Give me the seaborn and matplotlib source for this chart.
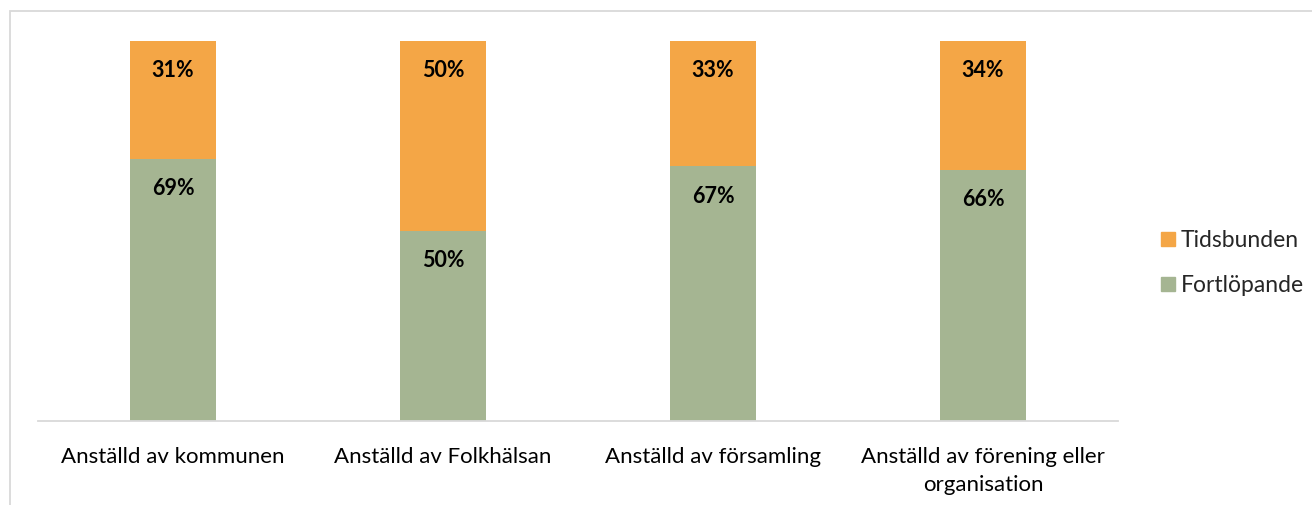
import numpy as np
import pandas as pd
import matplotlib
matplotlib.use("Agg")
import matplotlib.pyplot as plt
import seaborn as sns
from matplotlib.patches import Patch, Rectangle

categories = ["Anställd av kommunen", "Anställd av Folkhälsan",
              "Anställd av församling", "Anställd av förening eller\norganisation"]
fortlopande = [69, 50, 67, 66]
tidsbunden = [31, 50, 33, 34]

orange = "#F4A646"
green = "#A5B592"
grey = "#D9D9D9"

sns.set_theme(style="white")
plt.rcParams["font.family"] = ["Lato", "DejaVu Sans"]

df = pd.DataFrame({"kategori": categories,
                   "Fortlöpande": fortlopande,
                   "Tidsbunden": tidsbunden})
df["total"] = df["Fortlöpande"] + df["Tidsbunden"]

fig = plt.figure(figsize=(13.12, 5.05), dpi=100)
ax = fig.add_axes([38 / 1312, 84 / 505, 1080 / 1312, 380 / 505])

# stacked: draw total in orange, then the lower part in green over it
sns.barplot(data=df, x="kategori", y="total", color=orange, width=0.32,
            saturation=1, linewidth=0, ax=ax)
sns.barplot(data=df, x="kategori", y="Fortlöpande", color=green, width=0.32,
            saturation=1, linewidth=0, ax=ax)

ax.set_xlim(-0.5, 3.5)
ax.set_ylim(0, 100)
ax.set_xlabel("")
ax.set_ylabel("")
ax.set_yticks([])
ax.tick_params(axis="x", length=0, pad=19, labelsize=16, colors="black")
for lbl in ax.get_xticklabels():
    lbl.set_linespacing(1.45)
for s in ["top", "left", "right"]:
    ax.spines[s].set_visible(False)
ax.spines["bottom"].set_color(grey)
ax.spines["bottom"].set_linewidth(1.3)

for i, (f, t) in enumerate(zip(fortlopande, tidsbunden)):
    ax.text(i, f + t - 7.8, f"{t}%", ha="center", va="center",
            fontsize=15.5, fontweight="bold", color="black")
    ax.text(i, f - 7.8, f"{f}%", ha="center", va="center",
            fontsize=15.5, fontweight="bold", color="black")

handles = [Patch(color=orange, label="Tidsbunden"),
           Patch(color=green, label="Fortlöpande")]
fig.legend(handles=handles, loc="center left",
           bbox_to_anchor=(1150 / 1312, 1 - 263 / 505), frameon=False,
           fontsize=16.5, handlelength=0.6, handleheight=0.6,
           handletextpad=0.25, labelspacing=1.05, borderpad=0)

fig.patches.append(Rectangle((10 / 1312, -0.1), 1.2, 1 - 11 / 505 + 0.1,
                             transform=fig.transFigure, fill=False,
                             edgecolor=grey, linewidth=1.3))

fig.savefig("out.png", dpi=100)
